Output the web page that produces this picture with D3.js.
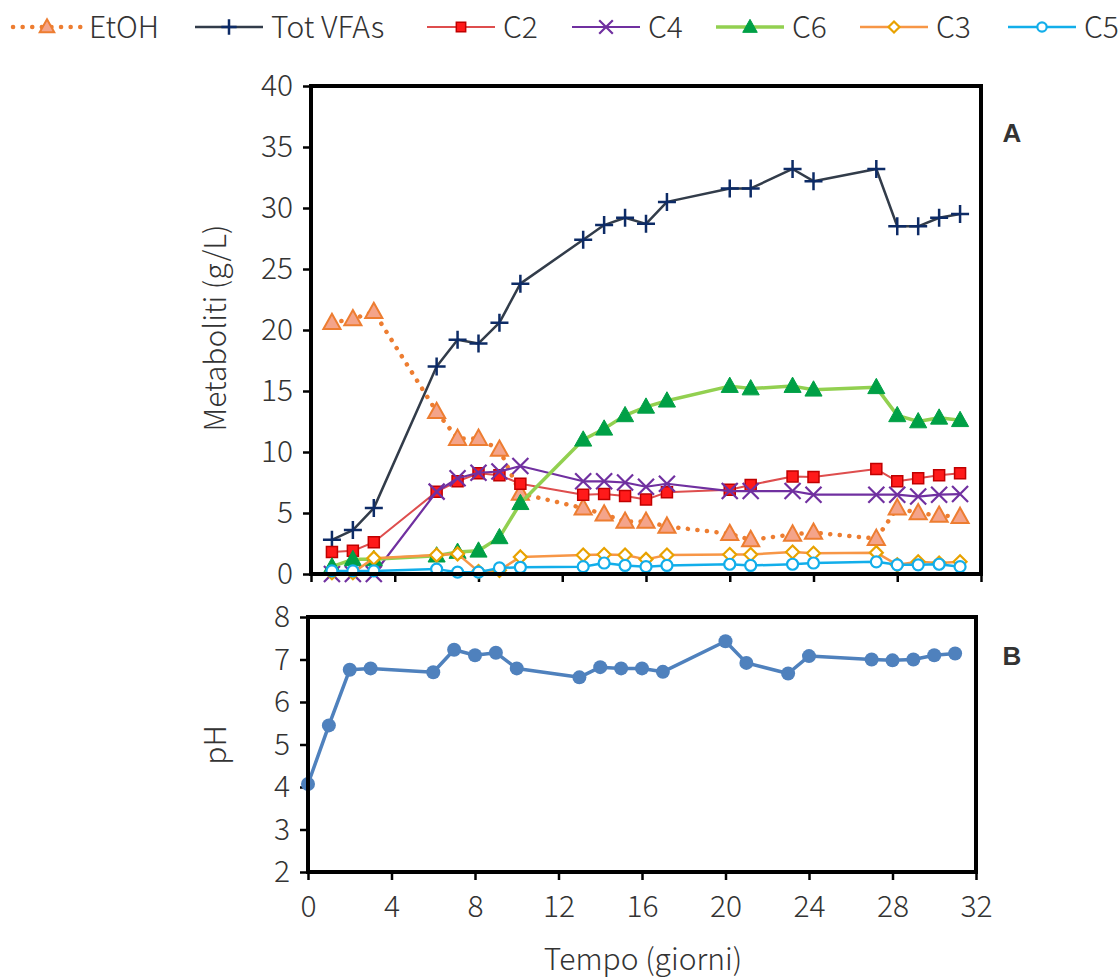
<!DOCTYPE html>
<html>
<head>
<meta charset="utf-8">
<script src="https://cdn.jsdelivr.net/npm/d3@7"></script>
<style>
  body { margin: 0; background: #fff; }
  svg { display: block; }
  text { font-family: "Noto Sans CJK JP", "Noto Sans", sans-serif; font-weight: 300; fill: #333; }
</style>
</head>
<body>
<svg id="chart" width="1119" height="978"></svg>
<script>
// Sampling days for metabolites (panel A)
const days = [1, 2, 3, 6, 7, 8, 9, 10, 13, 14, 15, 16, 17, 20, 21, 23, 24, 27, 28, 29, 30, 31];
// Concentrations, g/L
const etoh    = [20.6, 20.9, 21.5, 13.3, 11.1, 11.1, 10.2, 6.6, 5.4, 4.9, 4.3, 4.3, 3.9, 3.3, 2.8, 3.25, 3.4, 2.9, 5.4, 5.0, 4.8, 4.7];
const totVFAs = [2.8, 3.6, 5.4, 17.0, 19.2, 18.9, 20.6, 23.8, 27.4, 28.6, 29.2, 28.7, 30.5, 31.6, 31.6, 33.2, 32.2, 33.2, 28.5, 28.5, 29.2, 29.5];
const c2      = [1.8, 1.9, 2.6, 6.75, 7.6, 8.25, 8.1, 7.4, 6.5, 6.55, 6.4, 6.1, 6.7, 6.9, 7.3, 8.0, 7.95, 8.6, 7.6, 7.85, 8.1, 8.25];
const c4      = [0, 0, 0, 6.75, 7.85, 8.3, 8.4, 8.85, 7.6, 7.6, 7.5, 7.15, 7.4, 6.8, 6.8, 6.8, 6.5, 6.5, 6.5, 6.35, 6.5, 6.55];
const c6      = [0.6, 1.2, 1.2, 1.5, 1.8, 1.9, 3.0, 5.8, 11.0, 11.9, 13.0, 13.7, 14.2, 15.4, 15.2, 15.4, 15.1, 15.3, 13.0, 12.5, 12.8, 12.6];
const c3      = [0.1, 0.1, 1.3, 1.55, 1.65, 0.2, 0.3, 1.4, 1.55, 1.6, 1.55, 1.2, 1.55, 1.6, 1.6, 1.8, 1.7, 1.75, 0.75, 1.0, 0.9, 1.0];
const c5      = [0.25, 0.25, 0.25, 0.4, 0.15, 0.15, 0.5, 0.55, 0.6, 0.9, 0.7, 0.6, 0.7, 0.8, 0.7, 0.8, 0.9, 1.0, 0.75, 0.75, 0.8, 0.6];

// pH (panel B)
const phDays = [0, 1, 2, 3, 6, 7, 8, 9, 10, 13, 14, 15, 16, 17, 20, 21, 23, 24, 27, 28, 29, 30, 31];
const ph     = [4.07, 5.45, 6.76, 6.79, 6.70, 7.23, 7.10, 7.16, 6.79, 6.58, 6.82, 6.79, 6.79, 6.71, 7.43, 6.92, 6.67, 7.08, 7.0, 6.98, 7.0, 7.10, 7.14];

// Axis ticks
const xTicks = [0, 4, 8, 12, 16, 20, 24, 28, 32];
const yTicksA = [0, 5, 10, 15, 20, 25, 30, 35, 40];
const yTicksB = [2, 3, 4, 5, 6, 7, 8];

// Series names, in legend/draw order
const seriesNames = ["EtOH", "Tot VFAs", "C2", "C4", "C6", "C3", "C5"];
const seriesValues = [etoh, totVFAs, c2, c4, c6, c3, c5];

// Drawing styles for each series
const styles = {
  "EtOH":     { line: "#ED7D31", width: 4.5, dash: "0.1 9.5", marker: "triangle", size: 9, fill: "#F4A48A", stroke: "#ED7D31", sw: 2 },
  "Tot VFAs": { line: "#323C4A", width: 2.5, marker: "plus", size: 9, fill: "none", stroke: "#0D2B66", sw: 2.5 },
  "C2":       { line: "#DE4E4E", width: 2, marker: "square", size: 5.5, fill: "#FF1A1A", stroke: "#C00000", sw: 1.5 },
  "C4":       { line: "#7030A0", width: 2.2, marker: "x", size: 8, fill: "none", stroke: "#7030A0", sw: 2.2 },
  "C6":       { line: "#92D050", width: 3.5, marker: "triangle", size: 9, fill: "#00A046", stroke: "#00A046", sw: 1 },
  "C3":       { line: "#F79646", width: 2.5, marker: "diamond", size: 6.5, fill: "#fff", stroke: "#E8A200", sw: 2.2 },
  "C5":       { line: "#12AEEA", width: 2.5, marker: "circle", size: 5.5, fill: "#fff", stroke: "#12AEEA", sw: 2.2 }
};

const FONT_SIZE = 30;

function markerPath(type, s) {
  switch (type) {
    case "plus": return `M${-s},0H${s}M0,${-s}V${s}`;
    case "x": return `M${-s},${-s}L${s},${s}M${-s},${s}L${s},${-s}`;
    case "square": return `M${-s},${-s}H${s}V${s}H${-s}Z`;
    case "triangle": return `M0,${-s}L${s * 0.95},${s * 0.7}L${-s * 0.95},${s * 0.7}Z`;
    case "diamond": return `M0,${-s}L${s},0L0,${s}L${-s},0Z`;
    case "circle": return `M${s},0A${s},${s} 0 1,1 ${-s},0A${s},${s} 0 1,1 ${s},0Z`;
  }
}

const svg = d3.select("#chart");

// Panel geometry
const A = { left: 311, right: 981, top: 86, bottom: 574 };
const B = { left: 308, right: 976, top: 617, bottom: 872 };

const xA = d3.scaleLinear().domain([0, 32]).range([A.left, A.right]);
const yA = d3.scaleLinear().domain([0, 40]).range([A.bottom, A.top]);
const xB = d3.scaleLinear().domain([0, 32]).range([B.left, B.right]);
const yB = d3.scaleLinear().domain([2, 8]).range([B.bottom, B.top]);

function styleAxis(g) {
  g.select(".domain").remove();
  g.selectAll(".tick line").attr("stroke", "#000").attr("stroke-width", 2.5);
  g.selectAll(".tick text").attr("font-size", FONT_SIZE).attr("fill", "#333")
    .style("font-family", '"Noto Sans CJK JP", "Noto Sans", sans-serif')
    .style("font-weight", 300);
}

// ---- Panel A ----
svg.append("g").attr("transform", `translate(${A.left},0)`)
  .call(d3.axisLeft(yA).tickValues(yTicksA).tickSize(8).tickPadding(10))
  .call(styleAxis);
svg.append("g").attr("transform", `translate(0,${A.bottom})`)
  .call(d3.axisBottom(xA).tickValues(xTicks).tickSize(8).tickFormat(""))
  .call(styleAxis);

const lineA = d3.line().x((d, i) => xA(days[i])).y(d => yA(d));

seriesNames.forEach((name, k) => {
  const st = styles[name];
  const vals = seriesValues[k];
  const g = svg.append("g").attr("class", "series");
  g.append("path").datum(vals)
    .attr("d", lineA)
    .attr("fill", "none")
    .attr("stroke", st.line)
    .attr("stroke-width", st.width)
    .attr("stroke-linecap", st.dash ? "round" : "butt")
    .attr("stroke-linejoin", "round")
    .attr("stroke-dasharray", st.dash || null);
  g.selectAll("path.m").data(vals).join("path")
    .attr("class", "m")
    .attr("transform", (d, i) => `translate(${xA(days[i])},${yA(d)})`)
    .attr("d", markerPath(st.marker, st.size))
    .attr("fill", st.fill)
    .attr("stroke", st.stroke)
    .attr("stroke-width", st.sw);
});

svg.append("rect")
  .attr("x", A.left).attr("y", A.top)
  .attr("width", A.right - A.left).attr("height", A.bottom - A.top)
  .attr("fill", "none").attr("stroke", "#000").attr("stroke-width", 4);

// ---- Panel B ----
svg.append("g").attr("transform", `translate(${B.left},0)`)
  .call(d3.axisLeft(yB).tickValues(yTicksB).tickFormat(d3.format("d")).tickSize(8).tickPadding(10))
  .call(styleAxis);
svg.append("g").attr("transform", `translate(0,${B.bottom})`)
  .call(d3.axisBottom(xB).tickValues(xTicks).tickSize(8).tickPadding(16))
  .call(styleAxis);

svg.append("path").datum(ph)
  .attr("d", d3.line().x((d, i) => xB(phDays[i])).y(d => yB(d)))
  .attr("fill", "none").attr("stroke", "#4F81BD").attr("stroke-width", 3.5)
  .attr("stroke-linejoin", "round");
svg.append("g").selectAll("circle").data(ph).join("circle")
  .attr("cx", (d, i) => xB(phDays[i])).attr("cy", d => yB(d))
  .attr("r", 7).attr("fill", "#4F81BD");

svg.append("rect")
  .attr("x", B.left).attr("y", B.top)
  .attr("width", B.right - B.left).attr("height", B.bottom - B.top)
  .attr("fill", "none").attr("stroke", "#000").attr("stroke-width", 4);

// ---- Titles and panel letters ----
svg.append("text")
  .attr("transform", `translate(226,328) rotate(-90)`)
  .attr("text-anchor", "middle").attr("font-size", FONT_SIZE)
  .text("Metaboliti (g/L)");
svg.append("text")
  .attr("transform", `translate(226,745) rotate(-90)`)
  .attr("text-anchor", "middle").attr("font-size", FONT_SIZE)
  .text("pH");
svg.append("text")
  .attr("x", 643).attr("y", 970)
  .attr("text-anchor", "middle").attr("font-size", FONT_SIZE)
  .text("Tempo (giorni)");

svg.append("text").attr("x", 1012).attr("y", 142).attr("text-anchor", "middle")
  .attr("font-size", 26).attr("fill", "#000")
  .style("font-family", '"Liberation Sans", Arial, sans-serif').style("font-weight", "bold").text("A");
svg.append("text").attr("x", 1012).attr("y", 665).attr("text-anchor", "middle")
  .attr("font-size", 26).attr("fill", "#000")
  .style("font-family", '"Liberation Sans", Arial, sans-serif').style("font-weight", "bold").text("B");

// ---- Legend ----
const legendX = [13, 195, 427, 572, 716, 860, 1008];
const legendLineLen = 68;
const legendY = 27;
const leg = svg.append("g").attr("class", "legend");
seriesNames.forEach((name, k) => {
  const st = styles[name];
  const x0 = legendX[k];
  const item = leg.append("g");
  item.append("line")
    .attr("x1", x0).attr("x2", x0 + legendLineLen)
    .attr("y1", legendY).attr("y2", legendY)
    .attr("stroke", st.line).attr("stroke-width", st.width)
    .attr("stroke-linecap", st.dash ? "round" : "butt")
    .attr("stroke-dasharray", st.dash || null);
  item.append("path")
    .attr("transform", `translate(${x0 + legendLineLen / 2},${legendY})`)
    .attr("d", markerPath(st.marker, st.size * 0.85))
    .attr("fill", st.fill).attr("stroke", st.stroke).attr("stroke-width", st.sw);
  item.append("text")
    .attr("x", x0 + legendLineLen + 8).attr("y", legendY + 11)
    .attr("font-size", FONT_SIZE)
    .text(name);
});
</script>
</body>
</html>
